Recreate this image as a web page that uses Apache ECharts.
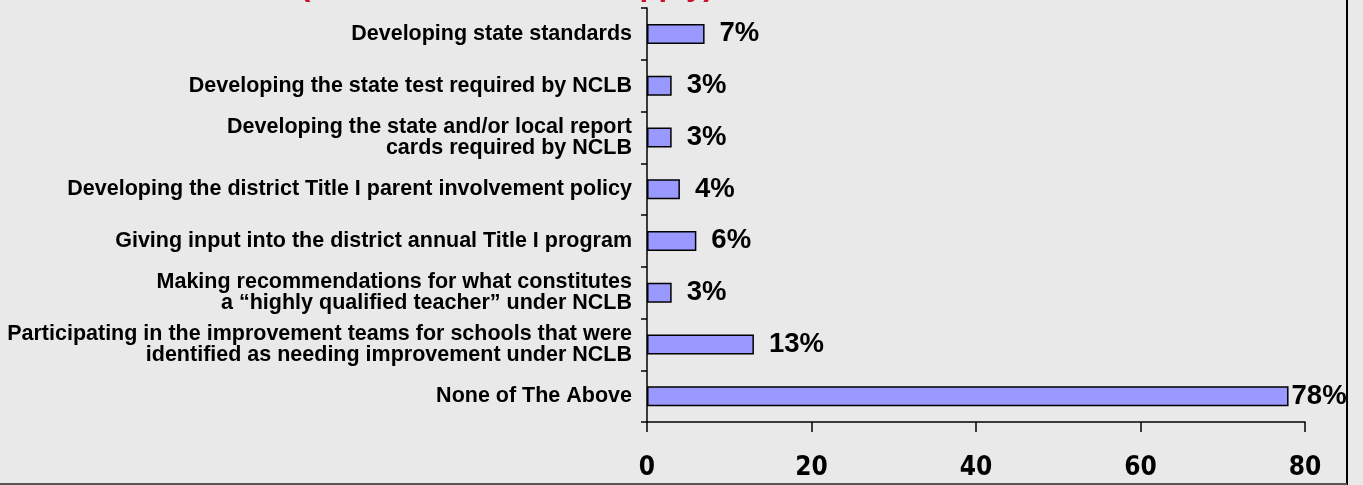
<!DOCTYPE html>
<html>
<head>
<meta charset="utf-8">
<script src="https://cdn.jsdelivr.net/npm/echarts@6/dist/echarts.min.js"></script>
<style>
  html, body { margin: 0; padding: 0; background: #e9e9e9; }
  #chart { width: 1363px; height: 485px; }
</style>
</head>
<body>
<div id="chart"></div>
<script>
const categories = [
  'Developing state standards',
  'Developing the state test required by NCLB',
  'Developing the state and/or local report\ncards required by NCLB',
  'Developing the district Title I parent involvement policy',
  'Giving input into the district annual Title I program',
  'Making recommendations for what constitutes\na \u201chighly qualified teacher\u201d under NCLB',
  'Participating in the improvement teams for schools that were\nidentified as needing improvement under NCLB',
  'None of The Above'
]
const percents = [7, 3, 3, 4, 6, 3, 13, 78]
const xTicks = [0, 20, 40, 60, 80]
const titleText = '(Please check all that apply)'

const chart = echarts.init(document.getElementById('chart'))

// label sits close to the bar when it runs into the frame
const barData = percents.map(v => ({
  value: v,
  label: { distance: v > 50 ? 3 : 15 }
}))

chart.setOption({
  backgroundColor: '#e9e9e9',
  animation: false,
  grid: {
    left: 647,
    right: 58,
    top: 8,
    bottom: 63
  },
  xAxis: {
    type: 'value',
    min: xTicks[0],
    max: xTicks[xTicks.length - 1],
    interval: 20,
    splitLine: { show: false },
    axisLine: { show: true, lineStyle: { color: '#000', width: 1.5 } },
    axisTick: { show: true, inside: false, length: 10, lineStyle: { color: '#000', width: 1.5 } },
    axisLabel: {
      margin: 33,
      color: '#000',
      fontFamily: 'DejaVu Sans Condensed',
      fontWeight: 'bold',
      fontSize: 26
    }
  },
  yAxis: {
    type: 'category',
    inverse: true,
    data: categories,
    axisLine: { show: true, lineStyle: { color: '#000', width: 1.5 } },
    axisTick: { show: true, inside: false, length: 6, lineStyle: { color: '#000', width: 1.5 } },
    axisLabel: {
      margin: 15,
      color: '#000',
      fontFamily: 'Liberation Sans',
      fontWeight: 'bold',
      fontSize: 21.5,
      lineHeight: 21,
      align: 'right'
    }
  },
  series: [{
    type: 'bar',
    data: barData,
    barWidth: 20,
    itemStyle: { color: '#9999ff', borderColor: '#000', borderWidth: 1.5 },
    label: {
      show: true,
      position: 'right',
      formatter: '{c}%',
      color: '#000',
      fontFamily: 'Liberation Sans',
      fontWeight: 'bold',
      fontSize: 27.5
    }
  }],
  graphic: [
    {
      type: 'text',
      left: 300,
      top: -29,
      style: {
        text: titleText,
        fill: '#c8102e',
        font: 'bold 31px Liberation Sans'
      }
    },
    {
      type: 'rect',
      z: 100,
      shape: { x: 1348, y: 0, width: 15, height: 485 },
      style: { fill: '#e9e9e9' }
    },
    {
      type: 'line',
      z: 101,
      shape: { x1: 1347, y1: 0, x2: 1347, y2: 485 },
      style: { stroke: '#000', lineWidth: 2 }
    },
    {
      type: 'line',
      z: 101,
      shape: { x1: 0, y1: 484, x2: 1347, y2: 484 },
      style: { stroke: '#555', lineWidth: 2 }
    }
  ]
})
</script>
</body>
</html>
